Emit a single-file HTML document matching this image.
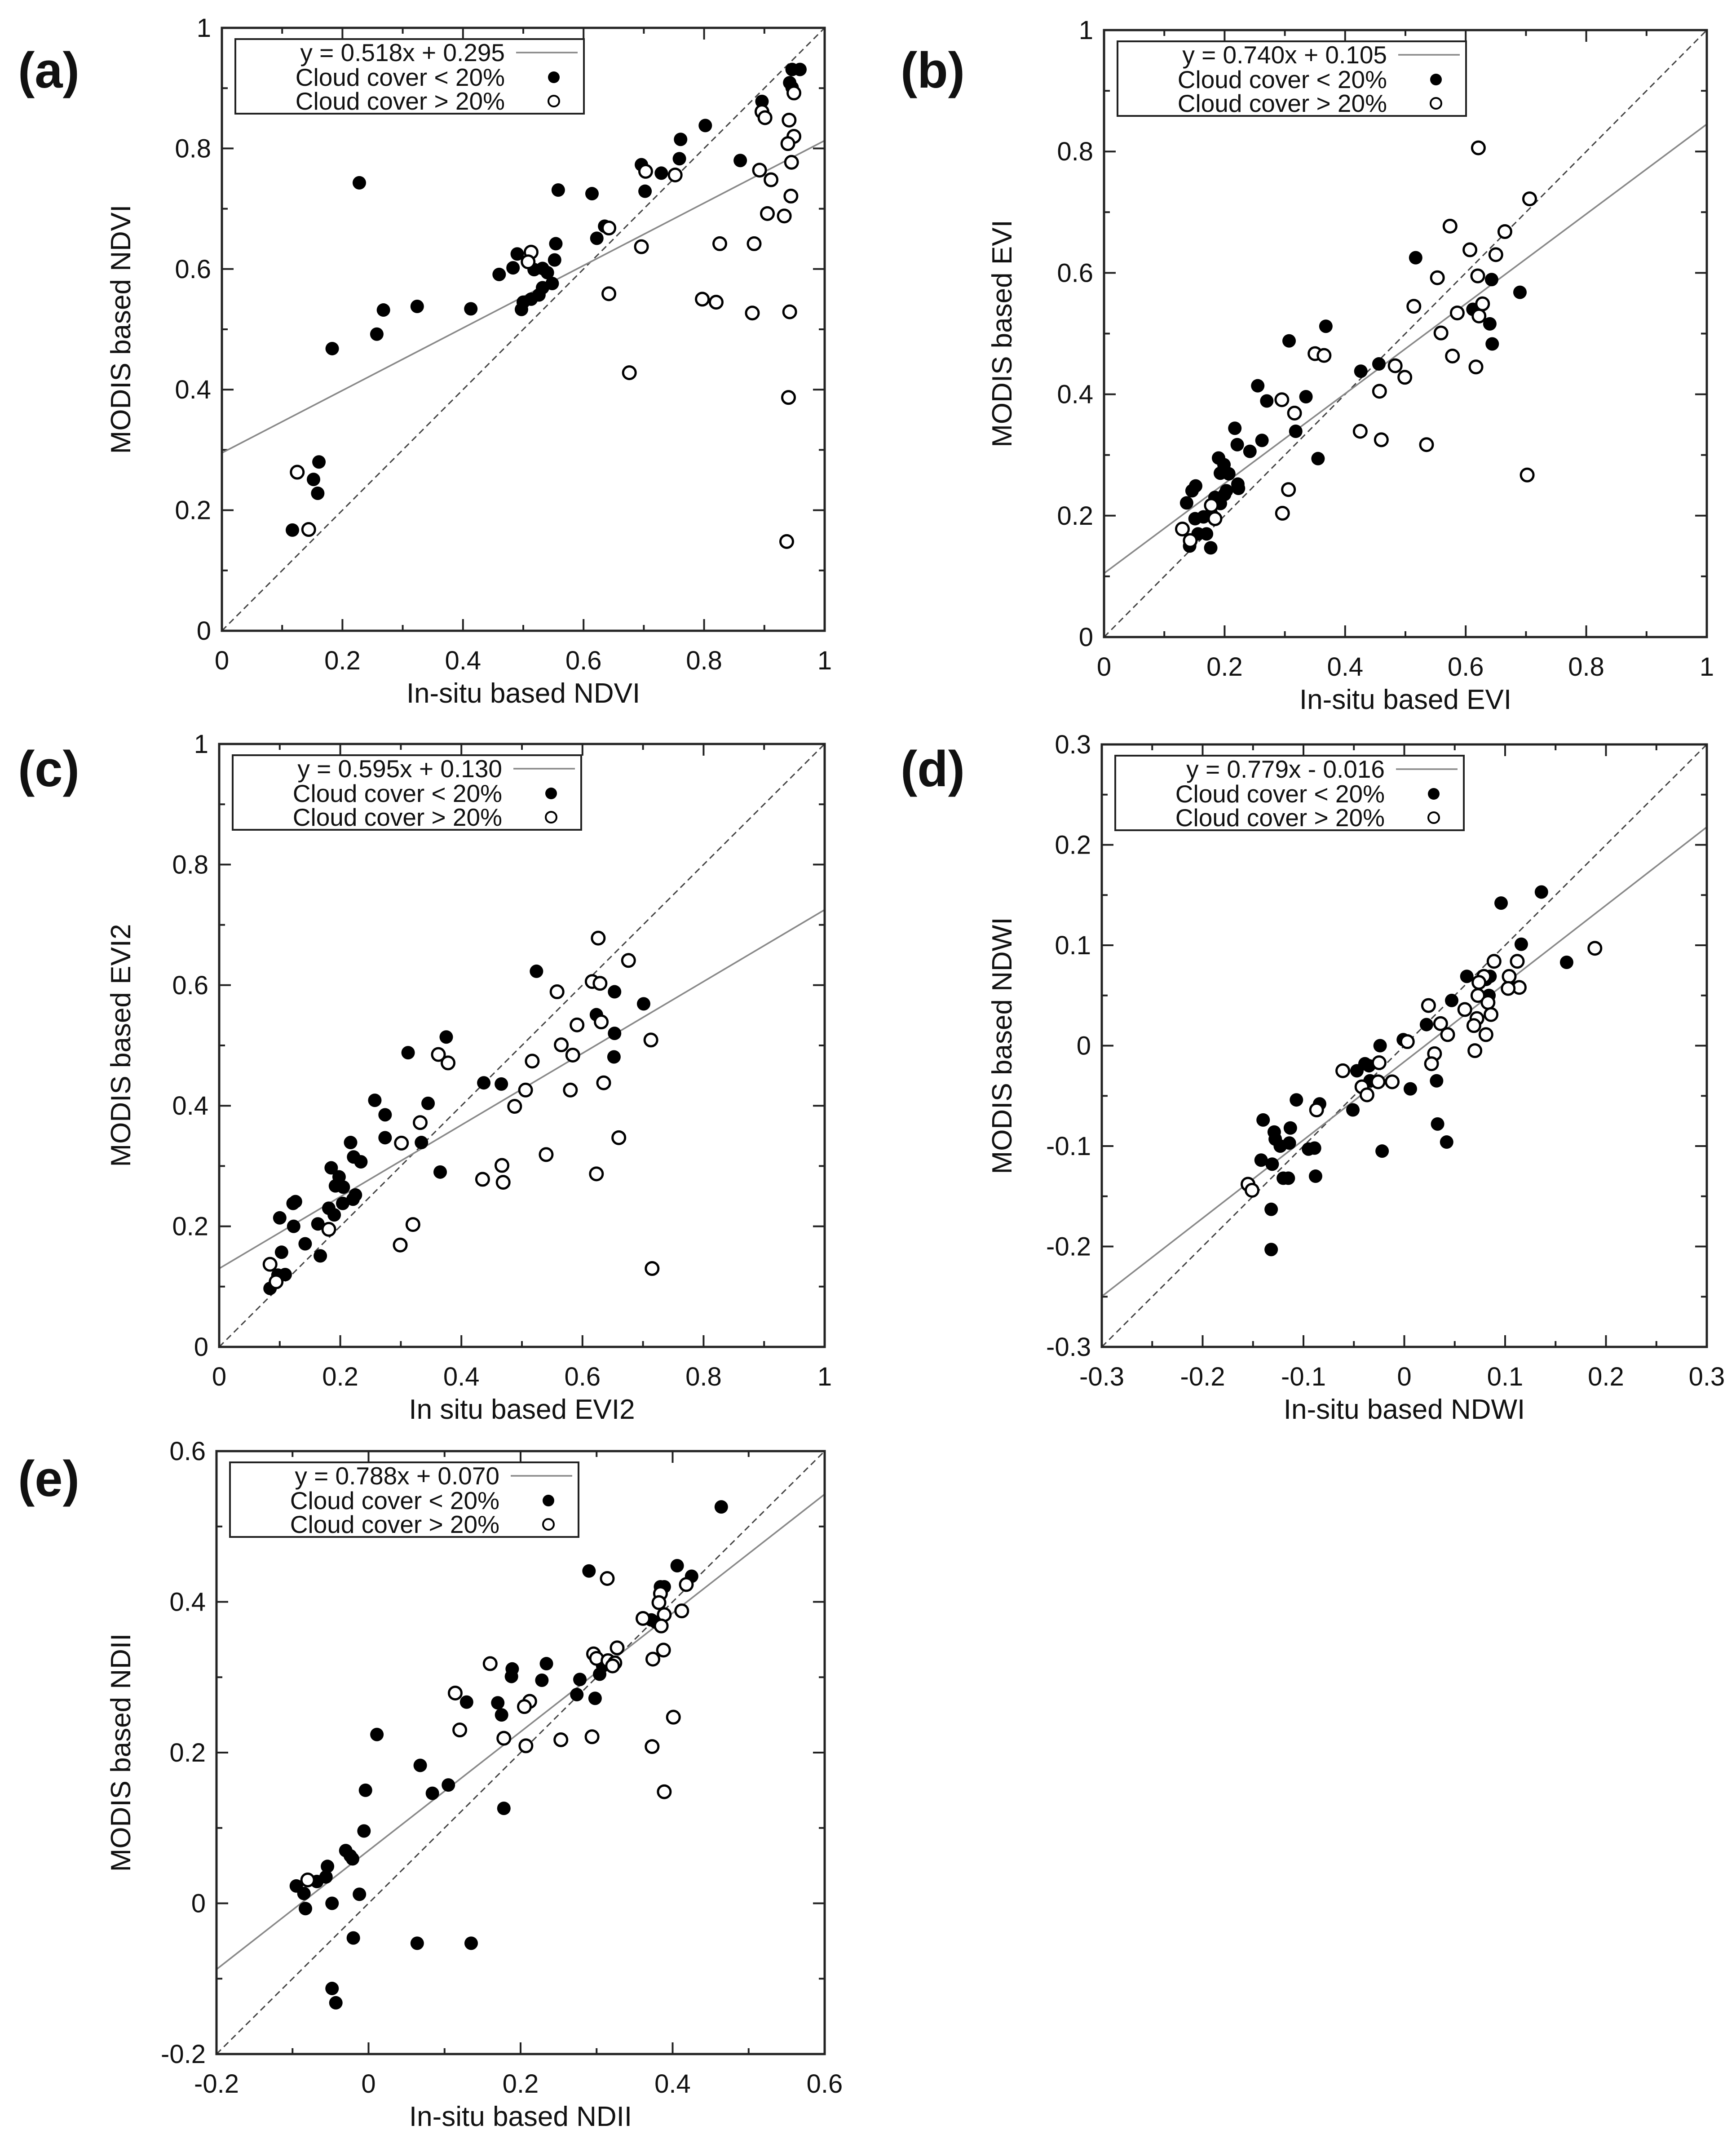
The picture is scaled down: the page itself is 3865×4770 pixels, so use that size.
<!DOCTYPE html>
<html><head><meta charset="utf-8">
<style>
html,body{margin:0;padding:0;background:#fff;}
svg{display:block;font-family:"Liberation Sans",Arial,sans-serif;}
</style></head>
<body>
<svg id="fig" width="3865" height="4770" viewBox="0 0 3865 4770" xmlns="http://www.w3.org/2000/svg">
<rect x="0" y="0" width="3865" height="4770" fill="#fff"/>
</svg>
<script>
// ---------- Panel (a) NDVI ----------
const aFilledX=[0.946,0.959,0.942,0.946,0.896,0.802,0.761,0.759,0.696,0.729,0.860,0.702,0.228,0.558,0.614,0.622,0.635,0.554,0.490,0.552,0.483,0.460,0.518,0.532,0.540,0.548,0.532,0.526,0.513,0.500,0.497,0.413,0.324,0.268,0.257,0.183,0.161,0.152,0.159,0.117];
const aFilledY=[0.931,0.931,0.909,0.901,0.878,0.838,0.815,0.783,0.773,0.759,0.780,0.729,0.743,0.731,0.725,0.651,0.671,0.642,0.625,0.615,0.602,0.591,0.599,0.601,0.594,0.576,0.569,0.557,0.550,0.545,0.533,0.534,0.538,0.532,0.492,0.468,0.280,0.251,0.228,0.167];
const aOpenX=[0.125,0.144,0.513,0.508,0.642,0.642,0.676,0.696,0.703,0.752,0.826,0.797,0.820,0.880,0.883,0.892,0.911,0.905,0.933,0.896,0.901,0.941,0.949,0.939,0.945,0.944,0.942,0.940,0.937,0.949];
const aOpenY=[0.263,0.168,0.628,0.612,0.668,0.559,0.428,0.637,0.762,0.756,0.642,0.550,0.545,0.527,0.642,0.764,0.748,0.692,0.688,0.861,0.851,0.847,0.820,0.808,0.777,0.721,0.529,0.387,0.148,0.892];
const aTicks=[0,0.2,0.4,0.6,0.8,1];
const aTickLabels=["0","0.2","0.4","0.6","0.8","1"];
const aFit=[0.518,0.295];
// ---------- Panel (b) EVI ----------
const bFilledX=[0.517,0.643,0.690,0.612,0.640,0.644,0.368,0.307,0.456,0.426,0.255,0.335,0.270,0.318,0.217,0.221,0.262,0.242,0.355,0.190,0.199,0.193,0.207,0.222,0.223,0.152,0.146,0.137,0.203,0.200,0.184,0.193,0.151,0.165,0.178,0.156,0.170,0.142,0.177];
const bFilledY=[0.625,0.589,0.568,0.540,0.516,0.483,0.512,0.488,0.450,0.438,0.414,0.396,0.389,0.339,0.344,0.317,0.324,0.306,0.294,0.295,0.284,0.270,0.269,0.252,0.245,0.249,0.241,0.221,0.241,0.235,0.230,0.220,0.195,0.198,0.203,0.170,0.170,0.150,0.147];
const bOpenX=[0.621,0.706,0.574,0.665,0.607,0.650,0.553,0.620,0.514,0.628,0.586,0.622,0.559,0.578,0.617,0.483,0.499,0.457,0.350,0.365,0.295,0.316,0.425,0.460,0.535,0.702,0.306,0.296,0.184,0.130,0.143,0.178];
const bOpenY=[0.806,0.722,0.677,0.668,0.638,0.630,0.592,0.595,0.545,0.549,0.534,0.529,0.501,0.463,0.445,0.447,0.428,0.405,0.467,0.464,0.391,0.369,0.339,0.325,0.317,0.267,0.243,0.204,0.195,0.178,0.159,0.217];
const bTicks=[0,0.2,0.4,0.6,0.8,1];
const bTickLabels=["0","0.2","0.4","0.6","0.8","1"];
const bFit=[0.740,0.105];
// ---------- Panel (c) EVI2 ----------
const cFilledX=[0.524,0.653,0.701,0.623,0.653,0.652,0.375,0.312,0.437,0.466,0.257,0.345,0.274,0.274,0.334,0.217,0.222,0.234,0.365,0.185,0.198,0.192,0.205,0.225,0.221,0.204,0.181,0.190,0.126,0.122,0.123,0.100,0.163,0.142,0.167,0.103,0.109,0.097,0.084];
const cFilledY=[0.623,0.589,0.569,0.551,0.520,0.481,0.514,0.488,0.438,0.436,0.409,0.404,0.385,0.347,0.339,0.339,0.315,0.307,0.290,0.297,0.282,0.267,0.265,0.252,0.245,0.238,0.230,0.219,0.241,0.238,0.200,0.214,0.204,0.171,0.151,0.157,0.120,0.119,0.097];
const cOpenX=[0.626,0.676,0.616,0.629,0.558,0.591,0.631,0.713,0.565,0.584,0.517,0.635,0.580,0.506,0.488,0.362,0.378,0.332,0.301,0.660,0.540,0.467,0.469,0.435,0.623,0.320,0.299,0.715,0.181,0.084,0.094];
const cOpenY=[0.678,0.641,0.606,0.603,0.589,0.534,0.539,0.509,0.501,0.484,0.474,0.438,0.426,0.426,0.399,0.485,0.471,0.372,0.338,0.347,0.319,0.301,0.273,0.278,0.287,0.203,0.169,0.130,0.195,0.137,0.108];
const cTicks=[0,0.2,0.4,0.6,0.8,1];
const cTickLabels=["0","0.2","0.4","0.6","0.8","1"];
const cFit=[0.595,0.130];
// ---------- Panel (d) NDWI ----------
const dFilledX=[0.136,0.096,0.116,0.161,0.062,0.085,0.081,0.084,0.105,0.047,0.022,-0.001,-0.024,-0.047,-0.039,-0.035,-0.034,0.006,0.032,-0.051,-0.107,-0.084,-0.140,-0.129,-0.128,-0.113,-0.123,-0.114,-0.095,-0.089,-0.142,-0.131,-0.120,-0.115,-0.088,0.033,0.042,-0.022,-0.132,-0.132];
const dFilledY=[0.153,0.142,0.101,0.083,0.069,0.069,0.066,0.050,0.059,0.045,0.021,0.006,0.000,-0.025,-0.018,-0.020,-0.035,-0.043,-0.035,-0.064,-0.054,-0.058,-0.074,-0.086,-0.093,-0.082,-0.100,-0.097,-0.103,-0.102,-0.114,-0.118,-0.132,-0.132,-0.130,-0.078,-0.096,-0.105,-0.163,-0.203];
const dOpenX=[0.189,0.089,0.112,0.104,0.079,0.074,0.114,0.103,0.073,0.083,0.086,0.072,0.069,0.081,0.070,0.024,0.060,0.036,0.043,0.003,0.030,0.027,-0.025,-0.061,-0.012,-0.026,-0.042,-0.037,-0.087,-0.155,-0.151];
const dOpenY=[0.097,0.084,0.084,0.069,0.069,0.063,0.058,0.057,0.050,0.043,0.031,0.027,0.020,0.011,-0.005,0.040,0.036,0.022,0.011,0.004,-0.008,-0.018,-0.017,-0.025,-0.036,-0.036,-0.041,-0.049,-0.064,-0.138,-0.144];
const dTicks=[-0.3,-0.2,-0.1,0,0.1,0.2,0.3];
const dTickLabels=["-0.3","-0.2","-0.1","0","0.1","0.2","0.3"];
const dFit=[0.779,-0.016];
// ---------- Panel (e) NDII ----------
const eFilledX=[0.464,0.406,0.425,0.290,0.384,0.389,0.372,0.378,0.234,0.189,0.188,0.228,0.278,0.304,0.308,0.274,0.298,0.129,0.170,0.175,0.011,0.068,0.105,0.084,-0.004,0.178,-0.006,-0.030,-0.024,-0.021,-0.054,-0.056,-0.068,-0.095,-0.085,-0.083,-0.048,-0.012,-0.020,0.064,0.135,-0.048,-0.043];
const eFilledY=[0.526,0.448,0.434,0.441,0.420,0.420,0.376,0.373,0.318,0.311,0.301,0.296,0.297,0.304,0.315,0.277,0.272,0.267,0.266,0.250,0.224,0.183,0.157,0.146,0.150,0.126,0.096,0.070,0.063,0.059,0.049,0.035,0.029,0.023,0.013,-0.007,0.000,0.012,-0.046,-0.053,-0.053,-0.113,-0.132];
const eOpenX=[0.314,0.418,0.384,0.382,0.412,0.389,0.361,0.385,0.388,0.374,0.327,0.296,0.300,0.315,0.324,0.321,0.160,0.114,0.212,0.205,0.120,0.178,0.207,0.253,0.294,0.401,0.373,0.389,-0.080];
const eOpenY=[0.431,0.423,0.411,0.399,0.388,0.383,0.378,0.368,0.336,0.324,0.339,0.331,0.325,0.322,0.319,0.315,0.318,0.279,0.268,0.261,0.230,0.219,0.209,0.217,0.221,0.247,0.208,0.148,0.031];
const eTicks=[-0.2,0,0.2,0.4,0.6];
const eTickLabels=["-0.2","0","0.2","0.4","0.6"];
const eFit=[0.788,0.070];

const NS="http://www.w3.org/2000/svg";
const svg=document.getElementById('fig');
function mk(tag,attrs,parent){const e=document.createElementNS(NS,tag);for(const k in attrs)e.setAttribute(k,attrs[k]);(parent||svg).appendChild(e);return e;}

function panel(p){
  const g=mk('g',{});
  
  
  const L=p.L,R=p.R,T=p.T,B=p.B,lo=p.lo,hi=p.hi;
  const sx=v=>L+(v-lo)/(hi-lo)*(R-L);
  const sy=v=>B-(v-lo)/(hi-lo)*(B-T);
  const clip=mk('clipPath',{id:'clip-'+p.id},g);
  mk('rect',{x:L,y:T,width:R-L,height:B-T},clip);
  const step=p.minor;
  const n=Math.round((hi-lo)/step);
  for(let i=0;i<=n;i++){
    const v=lo+i*step;
    const major=(i%2===0);
    const len=major?26:13;
    const X=sx(v),Y=sy(v);
    const t1=mk('path',{d:`M${X},${B}v${-len}M${X},${T}v${len}M${L},${Y}h${len}M${R},${Y}h${-len}`,stroke:'#222','stroke-width':4},g);
    
    
  }
  p.ticks.forEach((v,i)=>{
    const tx=mk('text',{x:sx(v),y:B+86,'font-size':58,'text-anchor':'middle',fill:'#111'},g);
    tx.textContent=p.labels[i];
    
    
    const ty=mk('text',{x:L-24,y:sy(v)+20,'font-size':58,'text-anchor':'end',fill:'#111'},g);
    ty.textContent=p.labels[i];
    
    
  });
  const d1=mk('line',{x1:sx(lo),y1:sy(lo),x2:sx(hi),y2:sy(hi),stroke:'#444','stroke-width':3,'stroke-dasharray':'14,9','clip-path':`url(#clip-${p.id})`},g);
  
  
  const m=p.fit[0],b=p.fit[1];
  const f=mk('line',{x1:sx(lo),y1:sy(m*lo+b),x2:sx(hi),y2:sy(m*hi+b),stroke:'#888','stroke-width':3.5,'clip-path':`url(#clip-${p.id})`},g);
  
  
  p.fx.forEach((v,i)=>{
    const c=mk('circle',{cx:sx(v),cy:sy(p.fy[i]),r:15,fill:'#000'},g);
    
    
  });
  p.ox.forEach((v,i)=>{
    const c=mk('circle',{cx:sx(v),cy:sy(p.oy[i]),r:14,fill:'#fff',stroke:'#000','stroke-width':5},g);
    
    
  });
  const fr=mk('rect',{x:L,y:T,width:R-L,height:B-T,fill:'none',stroke:'#222','stroke-width':5},g);
  
  
  const lx=L+30,ly=T+25;
  const lg=mk('g',{},g);
  
  
  mk('rect',{x:lx,y:ly,width:776,height:166,fill:'#fff',stroke:'#222','stroke-width':4},lg);
  const rows=[p.eq,'Cloud cover < 20%','Cloud cover > 20%'];
  const offs=[30,85,138];
  rows.forEach((s,i)=>{
    const t=mk('text',{x:lx+600,y:ly+offs[i]+19,'font-size':55,'text-anchor':'end',fill:'#111'},lg);
    t.textContent=s;
    
    
  });
  mk('line',{x1:lx+625,y1:ly+30,x2:lx+762,y2:ly+30,stroke:'#888','stroke-width':3.5},lg);
  mk('circle',{cx:lx+709,cy:ly+85,r:13,fill:'#000'},lg);
  mk('circle',{cx:lx+709,cy:ly+138,r:12,fill:'#fff',stroke:'#000','stroke-width':4},lg);
  const xt=mk('text',{x:(L+R)/2,y:B+160,'font-size':62,'text-anchor':'middle',fill:'#111'},g);
  xt.textContent=p.xt;
  
  
  const yx=p.ytx,yy=(T+B)/2;
  const yt=mk('text',{x:yx,y:yy,'font-size':62,'text-anchor':'middle',fill:'#111',transform:`rotate(-90 ${yx} ${yy})`},g);
  yt.textContent=p.yt;
  
  
  const pl=mk('text',{x:p.plx,y:p.ply,'font-size':112,'font-weight':'bold',fill:'#111'},g);
  pl.textContent=p.label;
  
  
}

panel({id:'a',L:494,R:1836,T:62,B:1404,lo:0,hi:1,minor:0.1,ticks:aTicks,labels:aTickLabels,fit:aFit,fx:aFilledX,fy:aFilledY,ox:aOpenX,oy:aOpenY,eq:'y = 0.518x + 0.295',xt:'In-situ based NDVI',yt:'MODIS based NDVI',ytx:290,label:'(a)',plx:40,ply:195});
panel({id:'b',L:2458,R:3800,T:67,B:1418,lo:0,hi:1,minor:0.1,ticks:bTicks,labels:bTickLabels,fit:bFit,fx:bFilledX,fy:bFilledY,ox:bOpenX,oy:bOpenY,eq:'y = 0.740x + 0.105',xt:'In-situ based EVI',yt:'MODIS based EVI',ytx:2252,label:'(b)',plx:2005,ply:195});
panel({id:'c',L:488,R:1836,T:1656,B:2998,lo:0,hi:1,minor:0.1,ticks:cTicks,labels:cTickLabels,fit:cFit,fx:cFilledX,fy:cFilledY,ox:cOpenX,oy:cOpenY,eq:'y = 0.595x + 0.130',xt:'In situ based EVI2',yt:'MODIS based EVI2',ytx:290,label:'(c)',plx:40,ply:1750});
panel({id:'d',L:2453,R:3800,T:1657,B:2998,lo:-0.3,hi:0.3,minor:0.05,ticks:dTicks,labels:dTickLabels,fit:dFit,fx:dFilledX,fy:dFilledY,ox:dOpenX,oy:dOpenY,eq:'y = 0.779x - 0.016',xt:'In-situ based NDWI',yt:'MODIS based NDWI',ytx:2252,label:'(d)',plx:2005,ply:1750});
panel({id:'e',L:482,R:1836,T:3230,B:4572,lo:-0.2,hi:0.6,minor:0.1,ticks:eTicks,labels:eTickLabels,fit:eFit,fx:eFilledX,fy:eFilledY,ox:eOpenX,oy:eOpenY,eq:'y = 0.788x + 0.070',xt:'In-situ based NDII',yt:'MODIS based NDII',ytx:290,label:'(e)',plx:40,ply:3330});
</script>
</body></html>
